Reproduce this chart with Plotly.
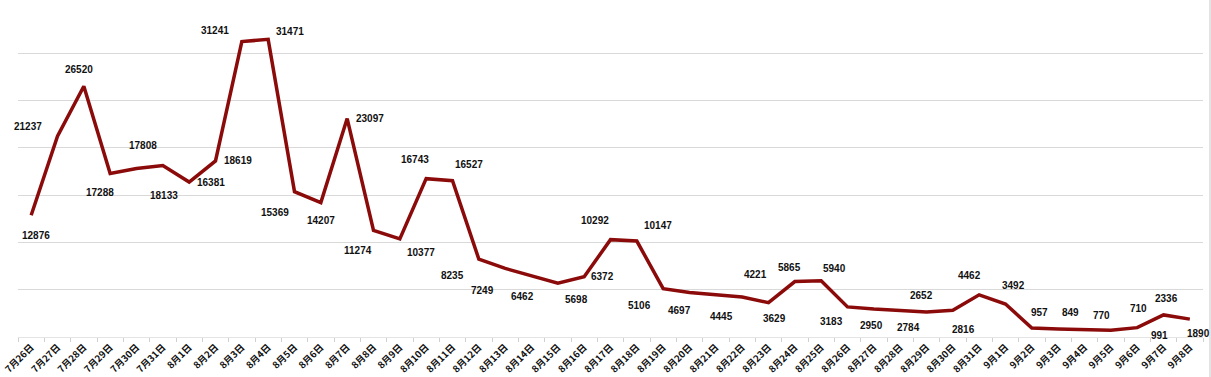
import plotly.graph_objects as go

dates = ["7月26日", "7月27日", "7月28日", "7月29日", "7月30日", "7月31日"] + \
        [f"8月{d}日" for d in range(1, 32)] + [f"9月{d}日" for d in range(1, 9)]

values = [12876, 21237, 26520, 17288, 17808, 18133, 16381, 18619, 31241, 31471,
          15369, 14207, 23097, 11274, 10377, 16743, 16527, 8235, 7249, 6462,
          5698, 6372, 10292, 10147, 5106, 4697, 4445, 4221, 3629, 5865,
          5940, 3183, 2950, 2784, 2652, 2816, 4462, 3492, 957, 849,
          770, 710, 991, 2336, 1890]

# label offsets in pixels (dx right, dy down) relative to each point
label_dx = [5, -30, -5, -10, 6, 1, 22, 22, -27, 22,
            -20, 0, 23, -16, 21, -11, 16, -26, -23, -9,
            19, 18, -16, 21, -24, -10, 6, 13, 6, -5,
            13, -16, -2, 8, -5, 11, -10, 8, 8, 12,
            17, 28, 22, 3, 9]
label_dy = [20, -10, -17, 19, -23, 30, 0, 0, -11, -8,
            21, 18, 0, 20, 14, -19, -16, 16, 22, 21,
            16, 0, -19, -16, 17, 18, 22, -23, 16, -14,
            -12, 15, 16, 17, -16, 19, -19, -18, -15, -16,
            -14, -22, 8, -16, 14]

fig = go.Figure()
fig.add_trace(go.Scatter(
    x=dates, y=values, mode="lines",
    line=dict(color="#8B0A0A", width=3.5),
    hoverinfo="x+y", showlegend=False,
))

for d, v, dx, dy in zip(dates, values, label_dx, label_dy):
    fig.add_annotation(x=d, y=v, text=f"<b>{v}</b>", showarrow=False,
                       xshift=dx, yshift=-dy,
                       font=dict(family="Liberation Sans, Arial, sans-serif", size=10, color="#111111"))

fig.add_shape(type="line", xref="paper", yref="paper",
              x0=1.0059, x1=1.0059, y0=-40/331, y1=1 + 6/331,
              line=dict(color="#c8c8c8", width=1))

fig.update_layout(
    width=1211, height=377,
    margin=dict(l=18, r=8, t=6, b=40, autoexpand=False),
    paper_bgcolor="white", plot_bgcolor="white",
    xaxis=dict(type="category", range=[-0.5, len(dates) - 0.5], automargin=False,
               tickangle=-45, ticks="outside", tickson="boundaries",
               ticklen=4, tickcolor="#d0d0d0", showgrid=False,
               showline=True, linecolor="#e4e4e4", linewidth=1,
               tickfont=dict(family="Noto Sans CJK SC", size=9.5, color="#111111"),
               tickprefix="<b>", ticksuffix="</b>"),
    yaxis=dict(range=[0, 35000], dtick=5000, showticklabels=False, automargin=False,
               gridcolor="#d9d9d9", gridwidth=1, zeroline=False, showline=False),
)

fig.write_html("out.html", config={"displayModeBar": False},
               post_script="document.body.style.margin='0px';document.body.style.overflow='hidden';")
